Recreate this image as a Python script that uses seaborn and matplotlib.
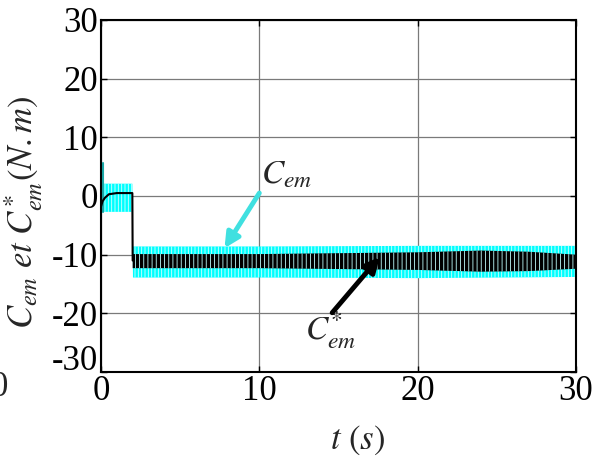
import matplotlib
matplotlib.use("Agg")
import matplotlib.pyplot as plt
import matplotlib.transforms as mtransforms
import seaborn as sns
import pandas as pd

# Electromagnetic torque C_em (measured, cyan ripple band) and reference C*_em (black)
t_cem = [0.0, 1.98, 2.02, 10.0, 20.0, 30.0]
cem_upper = [2.1, 2.1, -8.6, -8.6, -8.5, -8.5]
cem_lower = [-2.7, -2.7, -13.9, -13.9, -14.0, -13.8]
t_cem_spike = [0.1, 0.1]
cem_spike = [5.6, -2.7]

t_ref_start = [0.0, 0.1, 0.25, 0.5, 1.0, 1.98, 2.0]
ref_start = [-1.8, -0.9, -0.3, 0.3, 0.5, 0.5, -11.0]
t_ref = [2.0, 10.0, 20.0, 24.0, 27.0, 30.0]
ref_upper = [-9.9, -9.9, -9.6, -9.3, -9.5, -10.0]
ref_lower = [-12.3, -12.3, -12.6, -12.9, -12.8, -12.4]

x_ticks = [0, 10, 20, 30]
y_ticks = [-30, -20, -10, 0, 10, 20, 30]

sns.set_theme(style="white")
plt.rcParams["font.family"] = ["Liberation Serif", "DejaVu Serif"]
plt.rcParams["mathtext.fontset"] = "stix"
plt.rcParams["axes.unicode_minus"] = False
plt.rcParams["hatch.linewidth"] = 0.6

fig = plt.figure(figsize=(6.03, 4.58), dpi=100)
ax = fig.add_axes([101 / 603, 1 - 372 / 458, 475 / 603, 352 / 458])

# ripple bands, with fine vertical streaks standing for the switching ripple
ax.fill_between(t_cem, cem_lower, cem_upper, facecolor="#00FFFF",
                edgecolor="#d8ffff", hatch="|||||", lw=0, zorder=2)
sns.lineplot(x=t_cem_spike, y=cem_spike, ax=ax, color="#1aa8a8", lw=1.5,
             sort=False, estimator=None, zorder=2)
ax.fill_between(t_ref, ref_lower, ref_upper, facecolor="black",
                edgecolor="#bfffff", hatch="||||", lw=0, zorder=3)
sns.lineplot(data=pd.DataFrame({"t": t_ref_start, "v": ref_start}), x="t", y="v",
             ax=ax, color="black", lw=1.5, sort=False, estimator=None, zorder=3)

ax.set_xlim(0, 30)
ax.set_ylim(-30, 30)
ax.set_xticks(x_ticks)
ax.set_xticklabels([str(v) for v in x_ticks], fontsize=25)
ax.set_yticks(y_ticks)
ax.set_yticklabels([str(v) for v in y_ticks], fontsize=25)
ax.tick_params(direction="in", length=4, width=1, top=True, right=True,
               bottom=True, left=True, colors="black", pad=2)
ax.grid(True, color="#7a7a7a", lw=0.9)
ax.set_axisbelow(True)
for sp in ax.spines.values():
    sp.set_color("black")
    sp.set_linewidth(1.5)

# lift the bottom y label clear of the x-axis "0"
lowest = ax.get_yticklabels()[0]
lowest.set_transform(lowest.get_transform()
                     + mtransforms.ScaledTranslation(0, 0.14, fig.dpi_scale_trans))

ax.set_xlabel(r"$t\ (s)$", fontsize=25)
ax.xaxis.set_label_coords(0.54, -0.148)
ax.set_ylabel(r"$C_{em}\ et\ C_{em}^{*}(N.m)$", fontsize=25)
ax.yaxis.set_label_coords(-0.118, 0.455)

# Callouts
ax.annotate("", xy=(7.8, -8.9), xytext=(10.0, 0.5),
            arrowprops=dict(arrowstyle="-|>", color="#40E0E0", lw=3.5,
                            mutation_scale=22, shrinkA=0, shrinkB=0), zorder=5)
ax.text(10.1, 3.6, r"$C_{em}$", fontsize=24, ha="left", va="center")
ax.annotate("", xy=(17.6, -10.4), xytext=(14.6, -19.9),
            arrowprops=dict(arrowstyle="-|>", color="black", lw=3.5,
                            mutation_scale=22, shrinkA=0, shrinkB=0), zorder=5)
ax.text(14.5, -22.8, r"$C_{em}^{*}$", fontsize=24, ha="center", va="center")

# neighbouring panel's tick label clipped at the left edge
fig.text(0.014, 1 - 387 / 458, "0", fontsize=25, ha="right", va="center")

fig.savefig("out.png", dpi=100)
